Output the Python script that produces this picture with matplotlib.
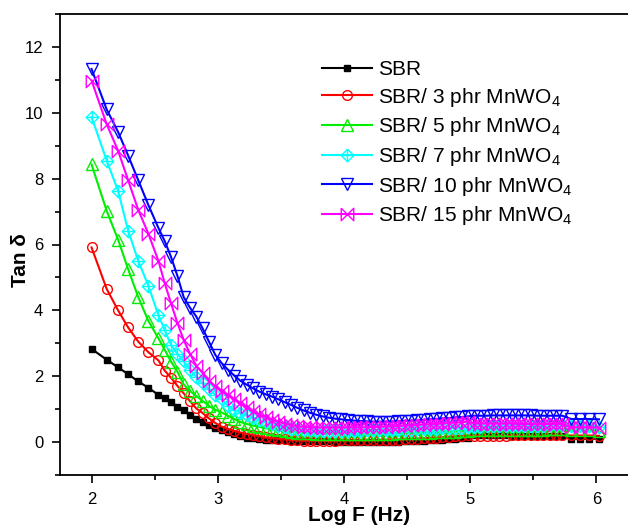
import matplotlib
matplotlib.use('Agg')
import matplotlib.pyplot as plt
from matplotlib.path import Path
from matplotlib.ticker import MultipleLocator

plt.rcParams['font.family'] = ['Liberation Sans', 'DejaVu Sans']
plt.rcParams['mathtext.fontset'] = 'custom'
plt.rcParams['mathtext.rm'] = 'Liberation Sans'
plt.rcParams['mathtext.it'] = 'Liberation Sans:italic'

# Log F (Hz) grid
log_f = [2.00, 2.12, 2.21, 2.29, 2.37, 2.45, 2.53, 2.58, 2.63, 2.68,
         2.73, 2.78, 2.83, 2.88, 2.93, 2.98, 3.03, 3.08, 3.13, 3.18,
         3.23, 3.28, 3.33, 3.38, 3.43, 3.48, 3.53, 3.58, 3.63, 3.68,
         3.73, 3.78, 3.83, 3.88, 3.93, 3.98, 4.03, 4.08, 4.13, 4.18,
         4.23, 4.28, 4.33, 4.38, 4.43, 4.48, 4.53, 4.58, 4.63, 4.68,
         4.73, 4.78, 4.83, 4.88, 4.93, 4.98, 5.03, 5.08, 5.13, 5.18,
         5.23, 5.28, 5.33, 5.38, 5.43, 5.48, 5.53, 5.58, 5.63, 5.68,
         5.73, 5.80, 5.87, 5.94, 6.02]

sbr = [2.83, 2.50, 2.27, 2.06, 1.84, 1.65, 1.43, 1.33, 1.21, 1.08,
       0.96, 0.82, 0.70, 0.60, 0.52, 0.44, 0.37, 0.30, 0.23, 0.17,
       0.13, 0.11, 0.09, 0.07, 0.06, 0.05, 0.05, 0.04, 0.04, 0.03,
       0.03, 0.03, 0.02, 0.02, 0.01, 0.01, 0.01, 0.00, 0.00, 0.00,
       0.00, 0.00, 0.01, 0.01, 0.01, 0.02, 0.03, 0.03, 0.04, 0.05,
       0.06, 0.07, 0.08, 0.10, 0.11, 0.13, 0.20, 0.20, 0.20, 0.20,
       0.20, 0.20, 0.19, 0.19, 0.19, 0.18, 0.18, 0.18, 0.17, 0.17,
       0.17, 0.10, 0.10, 0.10, 0.10]

phr3 = [5.91, 4.65, 4.00, 3.48, 3.05, 2.73, 2.48, 2.17, 1.95, 1.71,
        1.48, 1.24, 1.02, 0.88, 0.72, 0.58, 0.47, 0.40, 0.34, 0.29,
        0.25, 0.21, 0.18, 0.14, 0.12, 0.10, 0.08, 0.06, 0.05, 0.04,
        0.04, 0.04, 0.04, 0.04, 0.04, 0.05, 0.05, 0.05, 0.05, 0.05,
        0.05, 0.06, 0.06, 0.07, 0.07, 0.08, 0.09, 0.10, 0.11, 0.12,
        0.13, 0.14, 0.16, 0.17, 0.18, 0.20, 0.19, 0.19, 0.19, 0.19,
        0.19, 0.19, 0.20, 0.20, 0.20, 0.20, 0.20, 0.20, 0.20, 0.20,
        0.20, 0.20, 0.20, 0.20, 0.19]

phr5 = [8.43, 7.02, 6.15, 5.25, 4.40, 3.68, 3.15, 2.80, 2.44, 2.14,
        1.75, 1.55, 1.40, 1.25, 1.10, 0.98, 0.90, 0.80, 0.70, 0.61,
        0.55, 0.50, 0.46, 0.42, 0.39, 0.36, 0.33, 0.31, 0.29, 0.28,
        0.27, 0.26, 0.25, 0.25, 0.25, 0.25, 0.25, 0.25, 0.25, 0.25,
        0.25, 0.26, 0.26, 0.26, 0.27, 0.27, 0.28, 0.28, 0.29, 0.29,
        0.30, 0.31, 0.31, 0.32, 0.33, 0.34, 0.36, 0.36, 0.36, 0.37,
        0.37, 0.37, 0.37, 0.38, 0.38, 0.38, 0.38, 0.38, 0.39, 0.39,
        0.39, 0.36, 0.36, 0.36, 0.35]

phr7 = [9.87, 8.55, 7.63, 6.42, 5.50, 4.75, 3.85, 3.40, 2.95, 2.68,
        2.45, 2.20, 1.97, 1.78, 1.60, 1.44, 1.30, 1.10, 0.98, 0.89,
        0.81, 0.74, 0.67, 0.61, 0.55, 0.49, 0.45, 0.41, 0.39, 0.37,
        0.36, 0.35, 0.35, 0.35, 0.35, 0.35, 0.35, 0.35, 0.35, 0.36,
        0.36, 0.36, 0.36, 0.37, 0.37, 0.38, 0.38, 0.39, 0.40, 0.41,
        0.41, 0.42, 0.43, 0.44, 0.44, 0.45, 0.47, 0.47, 0.48, 0.48,
        0.48, 0.49, 0.49, 0.49, 0.50, 0.50, 0.50, 0.50, 0.51, 0.51,
        0.51, 0.48, 0.48, 0.48, 0.47]

phr10 = [11.33, 10.10, 9.42, 8.70, 7.95, 7.20, 6.50, 6.10, 5.62, 5.05,
         4.40, 4.08, 3.81, 3.45, 3.05, 2.65, 2.40, 2.20, 2.02, 1.86,
         1.74, 1.63, 1.53, 1.45, 1.38, 1.30, 1.21, 1.13, 1.04, 0.96,
         0.89, 0.83, 0.78, 0.74, 0.71, 0.69, 0.67, 0.65, 0.64, 0.63,
         0.62, 0.62, 0.62, 0.62, 0.63, 0.64, 0.65, 0.66, 0.67, 0.69,
         0.70, 0.72, 0.73, 0.75, 0.76, 0.78, 0.80, 0.80, 0.80, 0.81,
         0.81, 0.81, 0.81, 0.81, 0.81, 0.81, 0.80, 0.80, 0.80, 0.80,
         0.80, 0.70, 0.70, 0.70, 0.69]

phr15 = [10.98, 9.65, 8.85, 7.95, 7.05, 6.33, 5.50, 4.82, 4.21, 3.62,
         3.10, 2.68, 2.32, 2.10, 1.86, 1.69, 1.56, 1.43, 1.31, 1.18,
         1.05, 0.93, 0.84, 0.76, 0.68, 0.62, 0.56, 0.52, 0.48, 0.46,
         0.45, 0.44, 0.44, 0.44, 0.44, 0.44, 0.44, 0.45, 0.45, 0.45,
         0.46, 0.46, 0.47, 0.48, 0.49, 0.50, 0.51, 0.52, 0.53, 0.54,
         0.55, 0.56, 0.58, 0.59, 0.60, 0.62, 0.56, 0.56, 0.56, 0.56,
         0.56, 0.56, 0.56, 0.55, 0.55, 0.55, 0.55, 0.55, 0.55, 0.55,
         0.55, 0.45, 0.45, 0.45, 0.44]

labels = ['SBR',
          'SBR/ 3 phr MnWO$_4$',
          'SBR/ 5 phr MnWO$_4$',
          'SBR/ 7 phr MnWO$_4$',
          'SBR/ 10 phr MnWO$_4$',
          'SBR/ 15 phr MnWO$_4$']

# custom markers: crossed diamond and crossed bowtie
diamond_plus = Path([(0, 1), (1, 0), (0, -1), (-1, 0), (0, 1),
                     (0, 1), (0, -1), (-1, 0), (1, 0)],
                    [Path.MOVETO, Path.LINETO, Path.LINETO, Path.LINETO, Path.LINETO,
                     Path.MOVETO, Path.LINETO, Path.MOVETO, Path.LINETO])
bowtie_x = Path([(-1, 1), (1, -1), (1, 1), (-1, -1), (-1, 1)],
                [Path.MOVETO, Path.LINETO, Path.LINETO, Path.LINETO, Path.LINETO])

series = [
    (sbr, 'black', 's', 5, 'black'),
    (phr3, '#ff0000', 'o', 7, 'none'),
    (phr5, '#00ee00', '^', 8, 'none'),
    (phr7, '#00ffff', diamond_plus, 9, 'none'),
    (phr10, '#0000ff', 'v', 8, 'none'),
    (phr15, '#ff00ff', bowtie_x, 9, 'none'),
]

fig = plt.figure(figsize=(6.28, 5.26), dpi=100)
ax = fig.add_axes([60 / 628, 51 / 526, 568 / 628, 461 / 526])

for (vals, col, mk, ms, fc), lab in zip(series, labels):
    ax.plot(log_f, vals, color=col, lw=1.5, marker=mk, ms=ms,
            mfc=fc, mec=col, mew=1.0, label=lab)

ax.set_xlim(1.75, 6.25)
ax.set_ylim(-1, 13)
ax.xaxis.set_major_locator(MultipleLocator(1))
ax.xaxis.set_minor_locator(MultipleLocator(0.5))
ax.yaxis.set_major_locator(MultipleLocator(2))
ax.yaxis.set_minor_locator(MultipleLocator(1))
ax.tick_params(which='both', direction='out', width=1.2, labelsize=12,
               top=False, right=False)
ax.tick_params(which='major', length=6, pad=6)
ax.tick_params(which='minor', length=3.5)
for s in ['left', 'bottom', 'top']:
    ax.spines[s].set_linewidth(1.3)
ax.spines['right'].set_visible(False)

fig.text(20 / 628, 1 - 260 / 526, 'Tan δ', rotation=90, ha='center',
         va='center', fontsize=15, fontweight='bold')
fig.text(359 / 628, 1 / 526, 'Log F (Hz)', ha='center',
         va='bottom', fontsize=15, fontweight='bold')

ax.legend(loc='upper left', bbox_to_anchor=(322 / 628, 1 - 60 / 526),
          bbox_transform=fig.transFigure, frameon=False, fontsize=15,
          handlelength=2.4, handletextpad=0.3, labelspacing=0.32,
          borderpad=0, borderaxespad=0)

fig.savefig('out.png', dpi=100)
